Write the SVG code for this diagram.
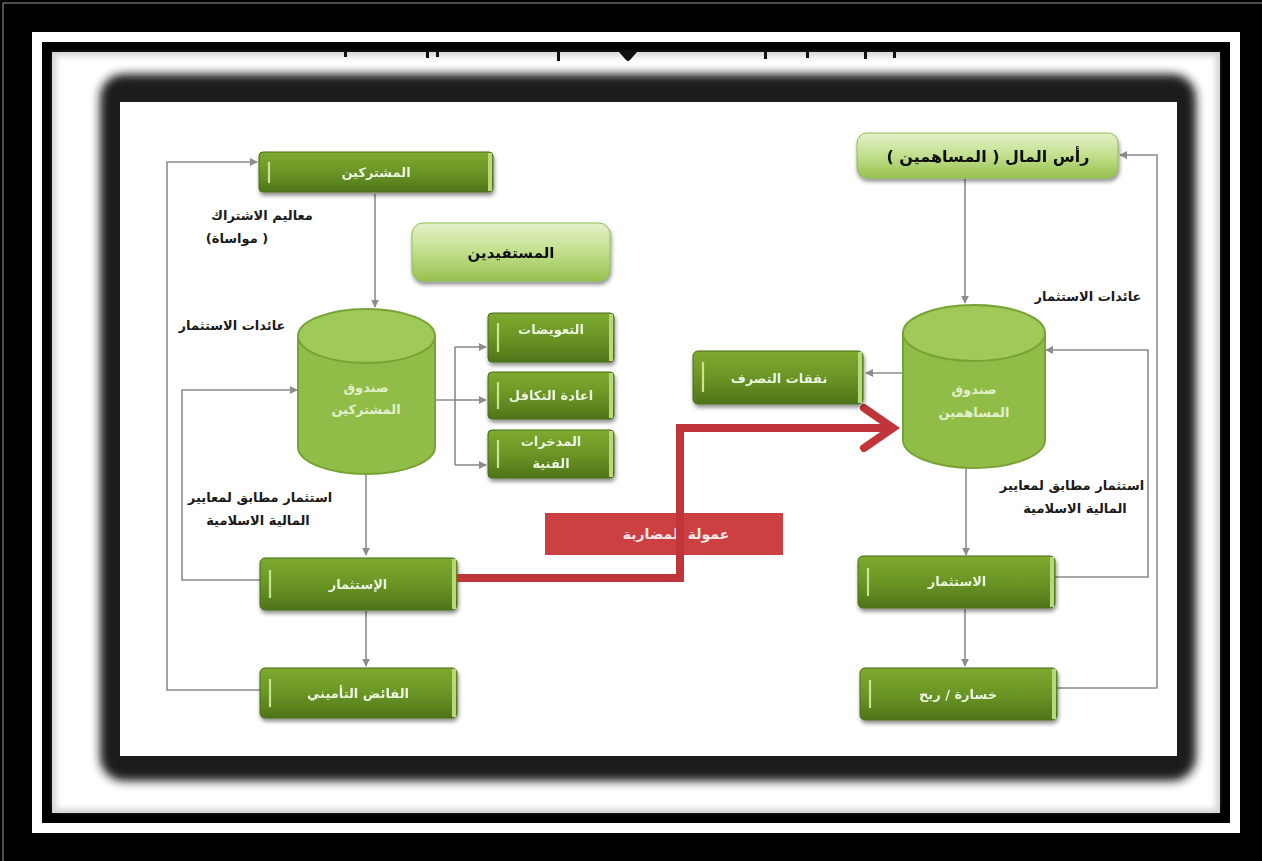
<svg xmlns="http://www.w3.org/2000/svg" width="1262" height="861" viewBox="0 0 1262 861">
<defs>
<style>
.conn{fill:none;stroke:#8c8c8c;stroke-width:1.6}
.lbl{font-family:"DejaVu Sans",sans-serif;font-weight:bold;font-size:13px;fill:#1a1a1a;text-anchor:middle}
.wt{font-family:"DejaVu Sans",sans-serif;font-weight:bold;font-size:13px;fill:#eef5e0;text-anchor:middle}
.bt{font-family:"DejaVu Sans",sans-serif;font-weight:bold;font-size:15px;fill:#111;text-anchor:middle}
.ct{font-family:"DejaVu Sans",sans-serif;font-weight:bold;font-size:13px;fill:#e3efcd;text-anchor:middle}
.dk{fill:url(#gDark);stroke:#4a6c17;stroke-width:1}
.lt{fill:url(#gLight);stroke:#92bb52;stroke-width:1}
.acc{stroke:#c9e491;stroke-width:2.2}
.redge{fill:#b8d97a}
.cylb{fill:#90bd47;stroke:#78a334;stroke-width:2}
.cylt{fill:#9fca5a;stroke:#78a334;stroke-width:2}
</style>
<linearGradient id="gDark" x1="0" y1="0" x2="0" y2="1">
<stop offset="0" stop-color="#7eaa30"/>
<stop offset="0.5" stop-color="#6a9525"/>
<stop offset="1" stop-color="#4f7419"/>
</linearGradient>
<linearGradient id="gLight" x1="0" y1="0" x2="0" y2="1">
<stop offset="0" stop-color="#e4f1c9"/>
<stop offset="0.5" stop-color="#c2df8d"/>
<stop offset="1" stop-color="#97c14f"/>
</linearGradient>
<filter id="shadow" x="-10%" y="-20%" width="120%" height="150%">
<feGaussianBlur in="SourceAlpha" stdDeviation="2"/>
<feOffset dx="1" dy="3" result="b"/>
<feComponentTransfer><feFuncA type="linear" slope="0.45"/></feComponentTransfer>
<feMerge><feMergeNode/><feMergeNode in="SourceGraphic"/></feMerge>
</filter>
<filter id="blur6" x="-5%" y="-5%" width="110%" height="110%"><feGaussianBlur stdDeviation="5"/></filter>
<filter id="blur3" x="-5%" y="-5%" width="110%" height="110%"><feGaussianBlur stdDeviation="3"/></filter>
<marker id="ah" viewBox="0 0 10 10" refX="9" refY="5" markerWidth="8" markerHeight="8" markerUnits="userSpaceOnUse" orient="auto">
<path d="M0,0 L10,5 L0,10 z" fill="#8c8c8c"/>
</marker>
</defs>

<!-- frame -->
<rect x="0" y="0" width="1262" height="861" fill="#000"/>
<path d="M3,861 V3 H1262" fill="none" stroke="#9a9a9a" stroke-width="1"/>
<rect x="32" y="32" width="1208" height="801" fill="#fff"/>
<rect x="42" y="42" width="1188" height="781" fill="#000"/>
<rect x="52" y="52" width="1168" height="761" fill="#d2d2d2"/>
<rect x="56" y="56" width="1160" height="753" fill="#fff" filter="url(#blur3)"/>
<rect x="100" y="74" width="1096" height="707" rx="24" fill="#1a1a1a" filter="url(#blur6)"/>
<rect x="120" y="102" width="1057" height="654" fill="#fff"/>

<!-- cut-off title fragments -->
<g fill="#111">
<rect x="344" y="52" width="3" height="5"/>
<rect x="426" y="52" width="3" height="6"/>
<rect x="436" y="52" width="3" height="5"/>
<rect x="557" y="52" width="3" height="9"/>
<path d="M619,52 H637 L630,60 Q628,62 626,60 Z"/>
<rect x="764" y="52" width="3" height="7"/>
<rect x="806" y="52" width="3" height="6"/>
<rect x="864" y="52" width="3" height="7"/>
<rect x="893" y="52" width="3" height="6"/>
</g>

<!-- connectors -->
<g id="connectors">
<path class="conn" d="M260,690 H167 V162 H257" marker-end="url(#ah)"/>
<path class="conn" d="M375,194 V307" marker-end="url(#ah)"/>
<path class="conn" d="M260,580 H182 V390 H297" marker-end="url(#ah)"/>
<path class="conn" d="M435,400 H455 M455,347 V465"/>
<path class="conn" d="M455,347 H486" marker-end="url(#ah)"/>
<path class="conn" d="M455,400 H486" marker-end="url(#ah)"/>
<path class="conn" d="M455,465 H486" marker-end="url(#ah)"/>
<path class="conn" d="M366,474 V555" marker-end="url(#ah)"/>
<path class="conn" d="M366,611 V666" marker-end="url(#ah)"/>
<path class="conn" d="M1057,688 H1157 V155 H1120" marker-end="url(#ah)"/>
<path class="conn" d="M965,179 V303" marker-end="url(#ah)"/>
<path class="conn" d="M1055,577 H1148 V350 H1046" marker-end="url(#ah)"/>
<path class="conn" d="M903,373 H866" marker-end="url(#ah)"/>
<path class="conn" d="M966,468 V555" marker-end="url(#ah)"/>
<path class="conn" d="M965,609 V666" marker-end="url(#ah)"/>
</g>

<!-- labels -->
<g id="labels">
<text class="lbl" x="262" y="220">معاليم الاشتراك</text>
<text class="lbl" x="237" y="243">(مواساة )</text>
<text class="lbl" x="232" y="330">عائدات الاستثمار</text>
<text class="lbl" x="260" y="502">استثمار مطابق لمعايير</text>
<text class="lbl" x="258" y="525">المالية الاسلامية</text>
<text class="lbl" x="1088" y="301">عائدات الاستثمار</text>
<text class="lbl" x="1072" y="490">استثمار مطابق لمعايير</text>
<text class="lbl" x="1075" y="513">المالية الاسلامية</text>
</g>

<!-- nodes -->
<g id="n-mushtarikin" filter="url(#shadow)">
<rect class="dk" x="259" y="152" width="234" height="40" rx="4"/>
<rect class="redge" x="488" y="153" width="4" height="38"/>
<line class="acc" x1="269" y1="162" x2="269" y2="183"/>
<text class="wt" x="376" y="177">المشتركين</text>
</g>

<g id="n-mustafidin" filter="url(#shadow)">
<rect class="lt" x="412" y="223" width="198" height="58" rx="11"/>
<text class="bt" x="511" y="258">المستفيدين</text>
</g>

<g id="n-fund-left">
<path class="cylb" d="M298,336 V447 A68.5,27 0 0 0 435,447 V336 Z"/>
<ellipse class="cylt" cx="366.5" cy="336" rx="68.5" ry="27"/>
<text class="ct" x="366" y="392">صندوق</text>
<text class="ct" x="366" y="414">المشتركين</text>
</g>

<g id="n-taawidat" filter="url(#shadow)">
<rect class="dk" x="488" y="313" width="126" height="49" rx="4"/>
<rect class="redge" x="609" y="314" width="4" height="47"/>
<line class="acc" x1="498" y1="323" x2="498" y2="352"/>
<text class="wt" x="551" y="334">التعويضات</text>
</g>

<g id="n-iadat" filter="url(#shadow)">
<rect class="dk" x="488" y="372" width="126" height="47" rx="4"/>
<rect class="redge" x="609" y="373" width="4" height="45"/>
<line class="acc" x1="498" y1="382" x2="498" y2="409"/>
<text class="wt" x="551" y="400">اعادة التكافل</text>
</g>

<g id="n-mukhassasat" filter="url(#shadow)">
<rect class="dk" x="488" y="430" width="126" height="48" rx="4"/>
<rect class="redge" x="609" y="431" width="4" height="46"/>
<line class="acc" x1="498" y1="440" x2="498" y2="468"/>
<text class="wt" x="551" y="446">المدخرات</text>
<text class="wt" x="551" y="468">الفنية</text>
</g>

<g id="n-istithmar-left" filter="url(#shadow)">
<rect class="dk" x="260" y="558" width="197" height="52" rx="5"/>
<rect class="redge" x="452" y="559" width="4" height="50"/>
<line class="acc" x1="270" y1="570" x2="270" y2="598"/>
<text class="wt" x="358" y="589">الإستثمار</text>
</g>

<g id="n-faid" filter="url(#shadow)">
<rect class="dk" x="260" y="668" width="197" height="50" rx="5"/>
<rect class="redge" x="452" y="669" width="4" height="48"/>
<line class="acc" x1="270" y1="679" x2="270" y2="707"/>
<text class="wt" x="358" y="698">الفائض التأميني</text>
</g>

<g id="n-mudaraba">
<rect x="545" y="513" width="238" height="42" fill="#cc4042"/>
<text x="676" y="539" font-family="DejaVu Sans, sans-serif" font-weight="bold" font-size="14" fill="#fbe9e9" text-anchor="middle">عمولة المضاربة</text>
</g>

<g id="red-flow">
<path d="M457,578 H680 V428 H888" fill="none" stroke="#c0353a" stroke-width="8" stroke-linejoin="miter"/>
<path d="M864,408 L893,428 L864,448" fill="none" stroke="#c0353a" stroke-width="8" stroke-linecap="round" stroke-linejoin="miter"/>
</g>

<g id="n-rasmal" filter="url(#shadow)">
<rect class="lt" x="857" y="133" width="261" height="45" rx="10"/>
<text x="988" y="162" font-family="DejaVu Sans, sans-serif" font-weight="bold" font-size="16" fill="#111" text-anchor="middle">رأس المال ( المساهمين )</text>
</g>

<g id="n-fund-right">
<path class="cylb" d="M903,333 V440 A71,28 0 0 0 1045,440 V333 Z"/>
<ellipse class="cylt" cx="974" cy="333" rx="71" ry="28"/>
<text class="ct" x="974" y="394">صندوق</text>
<text class="ct" x="974" y="417">المساهمين</text>
</g>

<g id="n-nafaqat" filter="url(#shadow)">
<rect class="dk" x="693" y="351" width="170" height="53" rx="5"/>
<rect class="redge" x="858" y="352" width="4" height="51"/>
<line class="acc" x1="703" y1="362" x2="703" y2="392"/>
<text class="wt" x="779" y="383">نفقات التصرف</text>
</g>

<g id="n-istithmar-right" filter="url(#shadow)">
<rect class="dk" x="858" y="556" width="197" height="52" rx="5"/>
<rect class="redge" x="1050" y="557" width="4" height="50"/>
<line class="acc" x1="868" y1="568" x2="868" y2="596"/>
<text class="wt" x="957" y="586">الاستثمار</text>
</g>

<g id="n-khasara" filter="url(#shadow)">
<rect class="dk" x="860" y="668" width="197" height="52" rx="5"/>
<rect class="redge" x="1052" y="669" width="4" height="50"/>
<line class="acc" x1="870" y1="680" x2="870" y2="708"/>
<text class="wt" x="958" y="699">خسارة / ربح</text>
</g>
</svg>
